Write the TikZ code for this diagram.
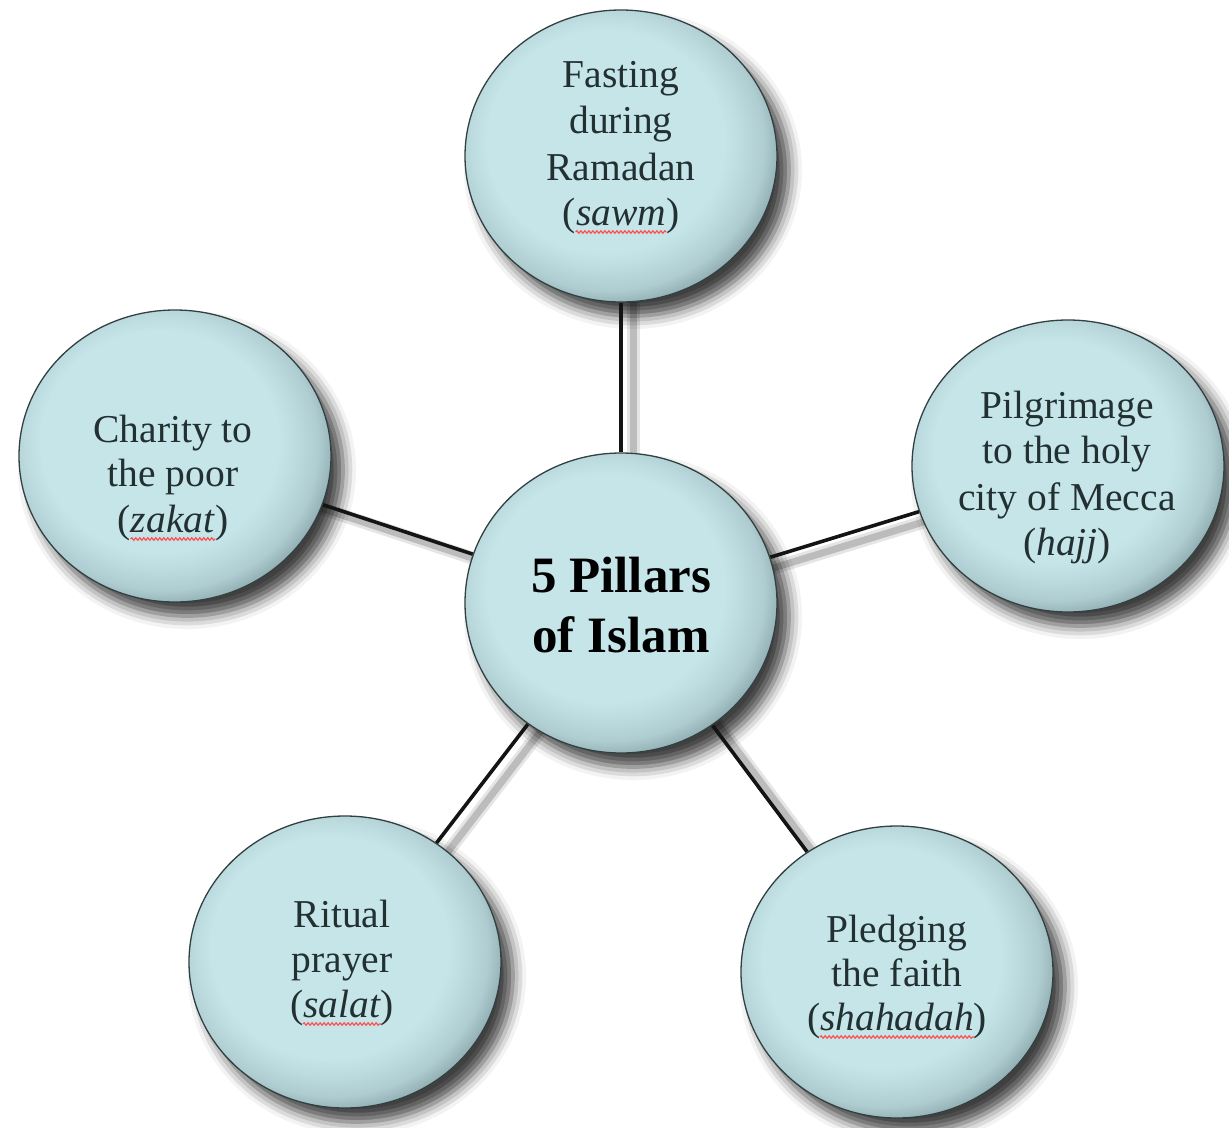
\documentclass[tikz,border=0pt]{standalone}
\usepackage{fontspec}
\setmainfont{Liberation Serif}
\usetikzlibrary{shapes.geometric,shadows.blur,decorations.pathmorphing}
\definecolor{bfill}{RGB}{198,229,233}
\definecolor{brim}{RGB}{92,120,123}
\definecolor{bline}{RGB}{50,64,66}
\definecolor{txtc}{RGB}{34,48,50}
\pgfdeclareradialshading{button}{\pgfpoint{-4bp}{4bp}}{%
  color(0bp)=(bfill); color(19bp)=(bfill); color(21.5bp)=(bfill!92!brim);
  color(25bp)=(bfill!78!brim); color(28bp)=(bfill!45!brim); color(31bp)=(brim); color(50bp)=(brim)}
\pgfdeclarelayer{shadowlayer}
\pgfdeclarelayer{linklayer}
\pgfsetlayers{shadowlayer,linklayer,main}
\begin{document}
\begin{tikzpicture}[x=1bp,y=-1bp,
  pillar/.style={ellipse, minimum width=312bp, minimum height=292bp, inner sep=0pt,
    draw=bline, line width=1.3bp, shading=button},
  hubshape/.style={pillar, minimum height=300bp},
  cshadow/.style={blur shadow={shadow xshift=12bp, shadow yshift=-14bp,
    shadow blur radius=13bp, shadow opacity=75}},
  link/.style={draw=black!92, line width=3.6bp},
  lshadowA/.style={draw=black, line width=13bp, opacity=0.10},
  lshadowB/.style={draw=black, line width=7bp, opacity=0.18},
  ptxt/.style={text=txtc, font=\fontsize{39.5bp}{46bp}\selectfont, inner sep=0pt, anchor=base},
  htxt/.style={text=black, font=\bfseries\fontsize{51bp}{60bp}\selectfont, inner sep=0pt, anchor=base},
  sq/.style={draw=red!70!white, line width=1.2bp, decorate,
    decoration={snake, amplitude=1.2bp, segment length=4bp}}
]
\useasboundingbox (0,0) rectangle (1229,1128);

% circles
\node[pillar] (saw) at (621,156) {};
\node[hubshape] (hub) at (621,603) {};
\node[pillar] (zak) at (175,456) {};
\node[pillar] (haj) at (1068,466) {};
\node[pillar] (sal) at (345,962) {};
\node[pillar] (sha) at (897,972) {};

% circle shadows
\begin{pgfonlayer}{shadowlayer}
  \foreach \n in {saw,zak,haj,sal,sha}
    \path[cshadow] (\n.center) ellipse [x radius=156, y radius=146];
  \path[cshadow] (hub.center) ellipse [x radius=156, y radius=150];
\end{pgfonlayer}

% connectors
\begin{pgfonlayer}{linklayer}
  \foreach \n in {saw,zak,haj,sal,sha} {
    \draw[lshadowA] ([shift={(12,8)}]hub.center) -- ([shift={(12,8)}]\n.center);
    \draw[lshadowB] ([shift={(12,8)}]hub.center) -- ([shift={(12,8)}]\n.center);
    \draw[link] (hub) -- (\n);
  }
\end{pgfonlayer}

% texts
\node[htxt] (h1) at (621,592) {5 Pillars};
\node[htxt] (h2) at (621,652) {of Islam};

\node[ptxt] (f1) at (621,87) {Fasting};
\node[ptxt] (f2) at (621,133) {during};
\node[ptxt] (f3) at (621,180) {Ramadan};
\node[ptxt] (f4) at (621,225) {(\textit{sawm})};

\node[ptxt] (c1) at (173,442) {Charity to};
\node[ptxt] (c2) at (173,486) {the poor};
\node[ptxt] (c3) at (173,532) {(\textit{zakat})};

\node[ptxt] (p1) at (1067,418) {Pilgrimage};
\node[ptxt] (p2) at (1067,463) {to the holy};
\node[ptxt] (p3) at (1067,510) {city of Mecca};
\node[ptxt] (p4) at (1067,555) {(\textit{hajj})};

\node[ptxt] (r1) at (342,927) {Ritual};
\node[ptxt] (r2) at (342,972) {prayer};
\node[ptxt] (r3) at (342,1017) {(\textit{salat})};

\node[ptxt] (s1) at (897,942) {Pledging};
\node[ptxt] (s2) at (897,986) {the faith};
\node[ptxt] (s3) at (897,1030) {(\textit{shahadah})};

% spell-check squiggles
\foreach \w in {f4,c3,r3,s3}
  \draw[sq] ([xshift=13bp, yshift=-7bp]\w.base west) -- ([xshift=-13bp, yshift=-7bp]\w.base east);
\end{tikzpicture}
\end{document}
